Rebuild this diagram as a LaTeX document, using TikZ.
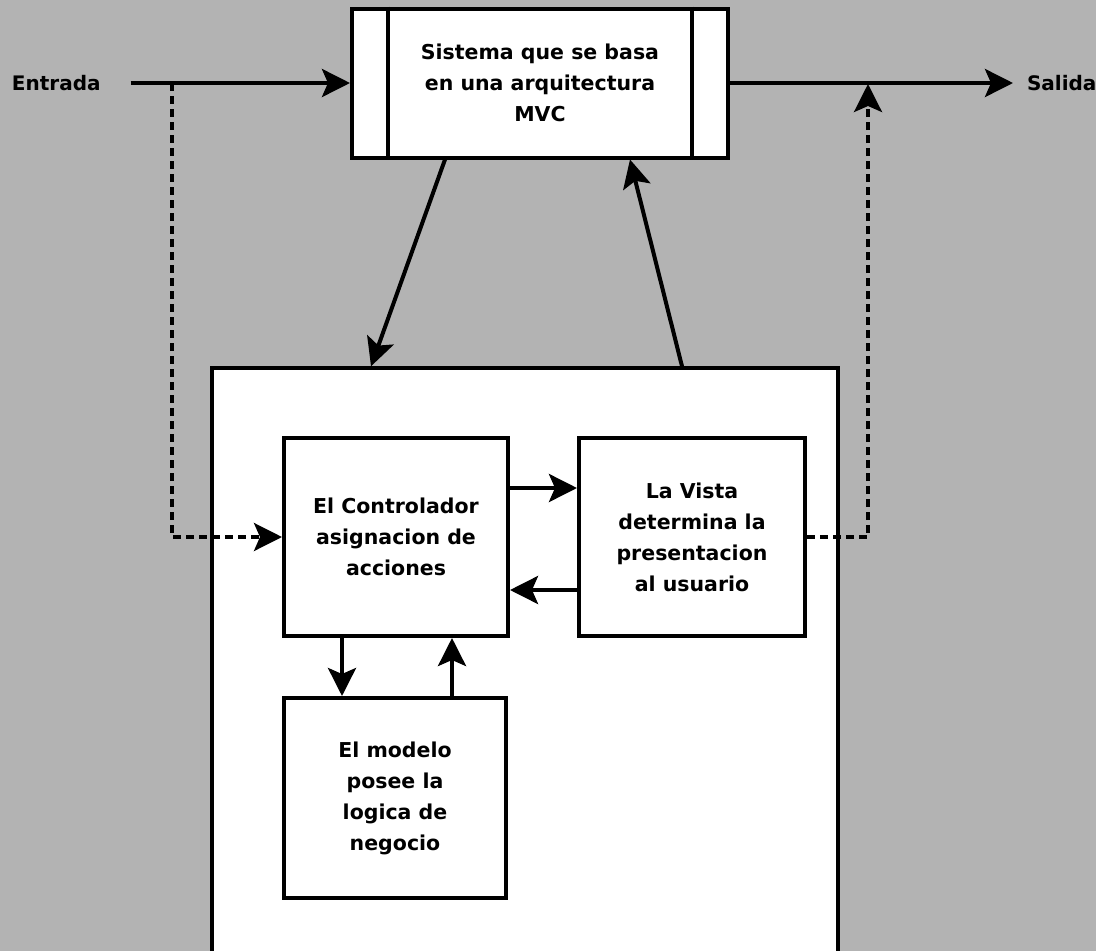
\documentclass[tikz,border=0pt]{standalone}
\usepackage{fontspec}
\setmainfont{DejaVu Sans}
\usetikzlibrary{arrows.meta,calc}
\definecolor{bggray}{RGB}{179,179,179}
\begin{document}
\begin{tikzpicture}[x=1pt,y=-1pt,line width=4pt,
  box/.style={draw,fill=white,align=center,inner sep=0pt,font=\fontsize{20.5}{31}\selectfont\bfseries},
  lbl/.style={font=\fontsize{20}{24}\selectfont\bfseries,inner sep=0pt},
  arr/.style={-{Stealth[length=28pt,width=28pt,inset=6pt]}},
  dashline/.style={arr,line width=3.5pt,dash pattern=on 8pt off 5pt}]
\useasboundingbox (0,0) rectangle (1096,951);
\fill[bggray] (0,0) rectangle (1096,951);
\clip (0,0) rectangle (1096,951);
% outer system and its parts
\node[box,line width=3.5pt,minimum width=626pt,minimum height=620pt] (sys) at (525,678) {};
\node[box,minimum width=376pt,minimum height=149pt] (mvc) at (540,83) {Sistema que se basa\\en una arquitectura\\MVC};
\draw (mvc.north west) ++(38,0) -- ++(0,149);
\draw (mvc.north east) ++(-38,0) -- ++(0,149);
\node[box,minimum width=224pt,minimum height=198pt] (ctrl) at (396,537) {El Controlador\\asignacion de\\acciones};
\node[box,minimum width=226pt,minimum height=198pt] (vista) at (692,537) {La Vista\\determina la\\presentacion\\al usuario};
\node[box,minimum width=222pt,minimum height=200pt] (modelo) at (395,798) {El modelo\\posee la\\logica de\\negocio};
% in / out
\node[lbl,anchor=west] (entrada) at (10,83) {Entrada};
\node[lbl,anchor=west] (salida) at (1025,83) {Salida};
\coordinate (inTap) at (172,83);
\coordinate (outTap) at (868,83);
\draw[arr] ([xshift=28pt]entrada.east) -- (mvc.west);
\draw[arr] (mvc.east) -- ([xshift=-12pt]salida.west);
\draw[dashline] (inTap) |- (ctrl.west);
\draw[dashline] (vista.east) -| ([yshift=-1pt]outTap);
% system <-> inner boxes
\draw[arr] ([xshift=-95pt]mvc.south) -- ([xshift=-154pt]sys.north);
\draw[arr] ([xshift=157pt]sys.north) -- ([xshift=90pt]mvc.south);
\draw[arr] ([yshift=49pt]ctrl.east) -- ([yshift=49pt]vista.west);
\draw[arr] ([yshift=-53pt]vista.west) -- ([yshift=-53pt]ctrl.east);
\draw[arr] ([xshift=-54pt]ctrl.south) -- ([xshift=-53pt]modelo.north);
\draw[arr] ([xshift=57pt]modelo.north) -- ([xshift=56pt]ctrl.south);
\end{tikzpicture}
\end{document}
